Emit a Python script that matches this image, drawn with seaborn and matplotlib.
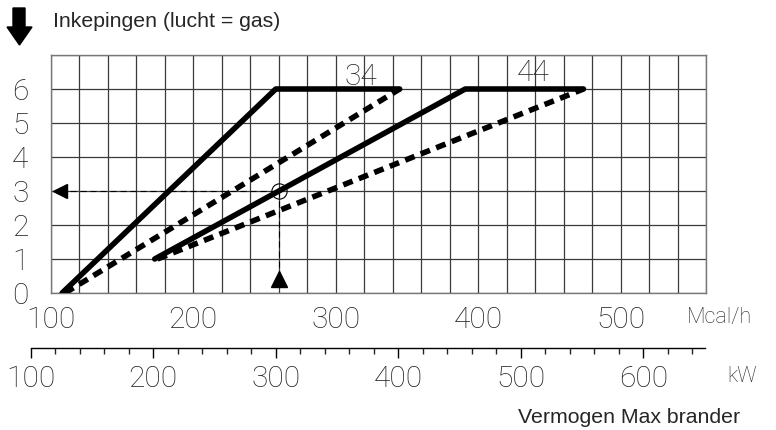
import numpy as np
import pandas as pd
import matplotlib
matplotlib.use("Agg")
import matplotlib.pyplot as plt
import matplotlib.patches as mpatches
import seaborn as sns

# burner curves, x in Mcal/h, y in notches
x34_solid = [108, 258, 345]
y34_solid = [0, 6, 6]
x34_dash = [110, 345]
y34_dash = [0, 6]
x44_solid = [173, 391, 474]
y44_solid = [1, 6, 6]
x44_dash = [175, 474]
y44_dash = [1, 6]

# worked example point
op_x = 260
op_y = 3
arrow_left_x = 106.5
arrow_up_y = 0.42

mcal_ticks = [100, 200, 300, 400, 500]
kw_ticks = [100, 200, 300, 400, 500, 600]
y_ticks = [0, 1, 2, 3, 4, 5, 6]
kw_per_mcal = 1 / 0.86

rows = []
for name, kind, xs, ys in [("34s", "solid", x34_solid, y34_solid),
                           ("34d", "dashed", x34_dash, y34_dash),
                           ("44s", "solid", x44_solid, y44_solid),
                           ("44d", "dashed", x44_dash, y44_dash)]:
    for xv, yv in zip(xs, ys):
        rows.append({"curve": name, "kind": kind, "mcal": xv, "notch": yv})
df = pd.DataFrame(rows)

sns.set_style("white")
plt.rcParams["font.family"] = ["Liberation Sans", "DejaVu Sans"]
digit_font = dict(family=["Roboto", "DejaVu Sans"], weight="light")
digit_size = 21.5

W, H = 776, 430
fig = plt.figure(figsize=(W / 100, H / 100), dpi=100)
ax = fig.add_axes([50.7 / W, (H - 293) / H, (706 - 50.7) / W, (293 - 55) / H])

sns.lineplot(data=df, x="mcal", y="notch", units="curve", estimator=None,
             style="kind", dashes={"solid": "", "dashed": (1.8, 1.2)},
             color="black", linewidth=4, legend=False, ax=ax, zorder=3)

ax.set_xlim(100, 560)
ax.set_ylim(0, 7)
ax.set_xticks(np.arange(100, 561, 20))
ax.set_xticklabels([str(v) if v in mcal_ticks else "" for v in np.arange(100, 561, 20)])
ax.set_yticks(np.arange(0, 8))
ax.set_yticklabels([str(v) if v in y_ticks else "" for v in range(8)])
ax.grid(True, color="#3a3a3a", linewidth=0.9)
ax.tick_params(length=0, labelsize=digit_size, colors="#222222")
ax.tick_params(axis="x", pad=9)
ax.tick_params(axis="y", pad=16)
for lab in ax.get_xticklabels() + ax.get_yticklabels():
    lab.set_fontfamily(digit_font["family"])
    lab.set_fontweight(digit_font["weight"])
for sp in ax.spines.values():
    sp.set_color("#777777")
    sp.set_linewidth(1)
ax.set_xlabel("")
ax.set_ylabel("")

# worked example guide lines
ax.plot([arrow_left_x, op_x], [op_y, op_y], color="black", lw=0.8,
        dashes=(5.5, 3.5), zorder=2)
ax.plot([op_x, op_x], [op_y, arrow_up_y], color="black", lw=0.8,
        dashes=(5.5, 3.5), zorder=2)
ax.plot(op_x, op_y, "o", mfc="none", mec="black", ms=11, mew=0.8, zorder=4)
ax.plot(arrow_left_x, op_y, "<", color="black", ms=10, zorder=4)
ax.plot(op_x, arrow_up_y, "^", color="black", ms=11, zorder=4)

ax.text(318, 6.35, "34", ha="center", va="center", fontsize=digit_size, **digit_font)
ax.text(439, 6.47, "44", ha="center", va="center", fontsize=digit_size, **digit_font)

# kW scale below
x0 = 50.7 + (100 / kw_per_mcal - 100) * (706 - 50.7) / 460
x1 = 50.7 + (650 / kw_per_mcal - 100) * (706 - 50.7) / 460
ax2 = fig.add_axes([x0 / W, (H - 348) / H, (x1 - x0) / W, 0.001])
ax2.set_xlim(100, 650)
ax2.set_yticks([])
for s in ["top", "left", "right"]:
    ax2.spines[s].set_visible(False)
ax2.spines["bottom"].set_color("black")
ax2.spines["bottom"].set_linewidth(1)
ax2.set_xticks(kw_ticks)
ax2.set_xticks(np.arange(100, 651, 20), minor=True)
ax2.tick_params(axis="x", which="major", direction="out", length=7, width=1,
                pad=5, labelsize=digit_size, colors="black", bottom=True)
ax2.tick_params(axis="x", which="minor", direction="out", length=4, width=1,
                bottom=True)
for lab in ax2.get_xticklabels():
    lab.set_fontfamily(digit_font["family"])
    lab.set_fontweight(digit_font["weight"])
    lab.set_color("#222222")
ax2.patch.set_visible(False)

fig.text(53 / W, 1 - 27 / H, "Inkepingen (lucht = gas)", fontsize=15.3,
         ha="left", va="baseline")
fig.text(740 / W, 1 - 423 / H, "Vermogen Max brander", fontsize=15.3,
         ha="right", va="baseline")
fig.text(687 / W, 1 - 318 / H, "Mcal/h", fontsize=15.5, ha="left", va="center",
         **digit_font)
fig.text(727 / W, 1 - 377 / H, "kW", fontsize=15.5, ha="left", va="center",
         **digit_font)

# big arrow pointing down, top left
pts = [(13, 8), (25, 8), (25, 27), (32, 27), (19.5, 45), (7, 27), (13, 27)]
arrow = mpatches.Polygon([(px / W, 1 - py / H) for px, py in pts],
                         closed=True, color="black", transform=fig.transFigure)
fig.patches.append(arrow)

fig.savefig("out.png", dpi=100)
